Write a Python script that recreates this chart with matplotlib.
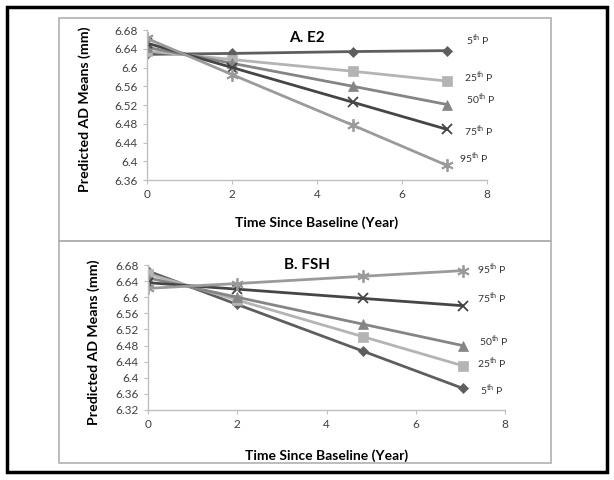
import matplotlib
matplotlib.use("Agg")
import matplotlib.pyplot as plt
from matplotlib.patches import Rectangle

plt.rcParams["font.family"] = ["Lato", "DejaVu Sans"]
plt.rcParams["mathtext.fontset"] = "custom"
plt.rcParams["mathtext.rm"] = "Lato"

# --- data ---
percentiles = ["5", "25", "50", "75", "95"]

years_e2 = [0, 2, 4.84, 7.06]
e2_5 = [6.628, 6.630, 6.634, 6.636]
e2_25 = [6.635, 6.617, 6.592, 6.571]
e2_50 = [6.643, 6.609, 6.560, 6.521]
e2_75 = [6.652, 6.600, 6.526, 6.468]
e2_95 = [6.662, 6.585, 6.477, 6.391]

years_fsh = [0, 2, 4.82, 7.05]
fsh_5 = [6.665, 6.582, 6.466, 6.374]
fsh_25 = [6.658, 6.593, 6.502, 6.430]
fsh_50 = [6.648, 6.600, 6.533, 6.480]
fsh_75 = [6.636, 6.620, 6.597, 6.579]
fsh_95 = [6.622, 6.634, 6.652, 6.666]

e2_ticks = [6.36, 6.4, 6.44, 6.48, 6.52, 6.56, 6.6, 6.64, 6.68]
fsh_ticks = [6.32, 6.36, 6.4, 6.44, 6.48, 6.52, 6.56, 6.6, 6.64, 6.68]

# style per percentile: colour, marker, size
styles = {
    "5": ("#5e5e5e", "D", 5.5),
    "25": ("#b4b4b4", "s", 6.5),
    "50": ("#858585", "^", 7),
    "75": ("#454545", "x", 7),
    "95": ("#9a9a9a", (6, 2, 0), 9),
}

fig = plt.figure(figsize=(6.14, 4.8), dpi=100)

# outer black frame and gray panel frames
fig.patches.append(Rectangle((7 / 614, 1 - 472 / 480), 600 / 614, 465 / 480,
                             transform=fig.transFigure, fill=False,
                             edgecolor="black", linewidth=2.5))
for top, bot in [(18, 241), (241, 463)]:
    fig.patches.append(Rectangle((59 / 614, 1 - bot / 480), 492 / 614, (bot - top) / 480,
                                 transform=fig.transFigure, fill=False,
                                 edgecolor="#b0b0b0", linewidth=1.2))


def panel(rect, years, series, ticks, title, title_xy, lab_pos, xlab_y, ylab_x):
    ax = fig.add_axes(rect)
    for p, vals in zip(percentiles, series):
        c, m, ms = styles[p]
        ax.plot(years, vals, color=c, marker=m, markersize=ms, linewidth=2,
                markeredgewidth=1.3 if m in ("x",) or isinstance(m, tuple) else 0.5,
                markeredgecolor=c)
    for p, (tx, ty) in zip(percentiles, lab_pos):
        ax.text(tx, ty, p + r"$^{\mathrm{th}}$ P", fontsize=7.5, color="#333333",
                ha="left", va="center")
    ax.set_xlim(0, 8)
    ax.set_ylim(ticks[0], ticks[-1])
    ax.set_xticks([0, 2, 4, 6, 8])
    ax.set_yticks(ticks)
    ax.set_yticklabels([f"{t:g}" for t in ticks])
    for s in ("top", "right"):
        ax.spines[s].set_visible(False)
    for s in ("left", "bottom"):
        ax.spines[s].set_color("#bfbfbf")
        ax.spines[s].set_linewidth(1)
    ax.tick_params(colors="#bfbfbf", labelcolor="#404040", labelsize=8.5,
                   length=3, direction="out")
    ax.set_xlabel("Time Since Baseline (Year)", fontsize=10, fontweight="bold")
    ax.set_ylabel("Predicted AD Means (mm)", fontsize=10.2, fontweight="bold")
    ax.xaxis.set_label_coords(0.5, xlab_y)
    ax.yaxis.set_label_coords(ylab_x, 0.47)
    ax.text(title_xy[0], title_xy[1], title, transform=ax.transAxes,
            fontsize=11, fontweight="bold", ha="center", va="center")
    ax.patch.set_alpha(0)
    return ax


panel([147 / 614, 1 - 180 / 480, 340 / 614, 150 / 480], years_e2,
      [e2_5, e2_25, e2_50, e2_75, e2_95], e2_ticks, "A. E2", (0.47, 0.947),
      [(7.5, 6.657), (7.45, 6.580), (7.5, 6.531), (7.45, 6.464), (7.35, 6.407)],
      -0.24, -0.165)

panel([148 / 614, 1 - 410 / 480, 357 / 614, 145 / 480], years_fsh,
      [fsh_5, fsh_25, fsh_50, fsh_75, fsh_95], fsh_ticks, "B. FSH", (0.445, 1.0),
      [(7.45, 6.369), (7.38, 6.437), (7.42, 6.491), (7.38, 6.598), (7.38, 6.668)],
      -0.27, -0.135)

fig.savefig("out.png", dpi=100)
